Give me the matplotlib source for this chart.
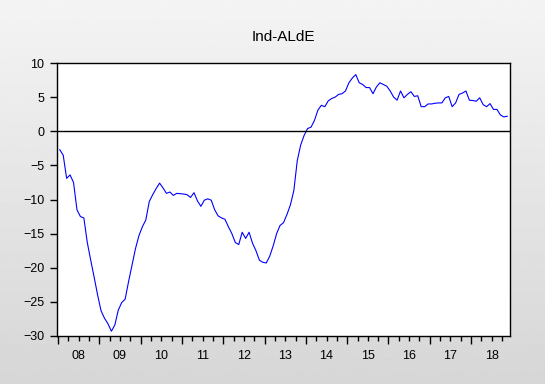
import numpy as np
import matplotlib
matplotlib.use("Agg")
import matplotlib.pyplot as plt

plt.rcParams["font.family"] = ["Liberation Sans", "DejaVu Sans"]

title = "Ind-ALdE"
first_year = 2008
year_labels = ["08", "09", "10", "11", "12", "13", "14", "15", "16", "17", "18"]

# monthly values, Jan 2008 .. Nov 2018
values = [
    -2.7, -3.5, -6.9, -6.4, -7.5, -11.5, -12.5, -12.7, -16.3, -18.9,
    -21.4, -24.0, -26.3, -27.4, -28.2, -29.3, -28.4, -26.2, -25.1, -24.6,
    -22.0, -19.6, -17.2, -15.3, -14.0, -13.0, -10.3, -9.3, -8.4, -7.6,
    -8.3, -9.1, -8.9, -9.4, -9.1, -9.15, -9.2, -9.3, -9.7, -9.0,
    -10.2, -11.0, -10.1, -9.9, -10.1, -11.5, -12.4, -12.7, -12.9, -14.0,
    -15.0, -16.3, -16.6, -14.8, -15.7, -14.8, -16.4, -17.5, -18.9, -19.2,
    -19.3, -18.3, -16.8, -15.0, -13.8, -13.4, -12.2, -10.8, -8.7, -4.3,
    -2.0, -0.6, 0.4, 0.6, 1.6, 3.1, 3.8, 3.6, 4.45, 4.8,
    5.0, 5.4, 5.5, 5.9, 7.1, 7.8, 8.3, 7.1, 6.85, 6.4,
    6.4, 5.5, 6.5, 7.1, 6.85, 6.6, 5.9, 5.0, 4.55, 5.9,
    4.9, 5.4, 5.8, 5.1, 5.2, 3.6, 3.6, 4.0, 4.0, 4.1,
    4.15, 4.15, 4.9, 5.1, 3.6, 4.15, 5.4, 5.6, 5.9, 4.55,
    4.5, 4.4, 4.9, 3.9, 3.6, 4.05, 3.2, 3.2, 2.4, 2.1,
    2.2,
]

months = np.arange(len(values)) + 0.5

fig = plt.figure(figsize=(5.45, 3.84), dpi=100)

# grey gradient background
bg = fig.add_axes([0, 0, 1, 1], zorder=-10)
grad = np.linspace(0.955, 0.84, 256).reshape(-1, 1)
bg.imshow(grad, aspect="auto", cmap="gray", vmin=0, vmax=1, extent=[0, 1, 0, 1])
bg.axis("off")

ax = fig.add_axes([57 / 545, 48 / 384, 453 / 545, 273 / 384])
ax.set_facecolor("white")
ax.plot(months, values, color="#0000ff", linewidth=0.8)
ax.axhline(0, color="black", linewidth=1.0)

ax.set_xlim(-0.3, 131.3)
ax.set_ylim(-30, 10)
ax.set_yticks(np.arange(-30, 11, 5))
ax.tick_params(axis="y", direction="out", length=5, width=1, labelsize=9, pad=4)

ax.set_xticks(np.arange(0, 121, 12))
ax.set_xticks(np.arange(0, 132, 3), minor=True)
ax.set_xticklabels([])
ax.tick_params(axis="x", which="major", direction="out", length=6, width=1)
ax.tick_params(axis="x", which="minor", direction="out", length=3.3, width=1)

sec = ax.secondary_xaxis("bottom")
sec.set_xticks(np.arange(len(year_labels)) * 12 + 6)
sec.set_xticklabels(year_labels)
sec.tick_params(length=0, labelsize=9, pad=10)
sec.spines["bottom"].set_visible(False)

for s in ax.spines.values():
    s.set_linewidth(1.0)
    s.set_color("black")

fig.text(283 / 545, 1 - 37 / 384, title, ha="center", va="center", fontsize=11)

fig.savefig("out.png", dpi=100)
